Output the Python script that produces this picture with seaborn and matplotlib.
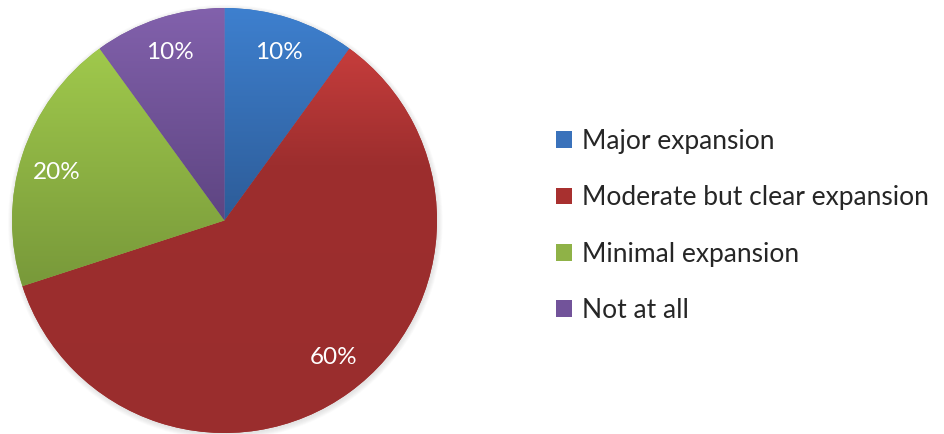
import numpy as np
import matplotlib
matplotlib.use("Agg")
import matplotlib.pyplot as plt
from matplotlib.colors import to_rgb
from matplotlib.patches import Patch, Circle
import seaborn as sns

categories = ["Major expansion", "Moderate but clear expansion", "Minimal expansion", "Not at all"]
values = [10, 60, 20, 10]
pct_labels = ["10%", "60%", "20%", "10%"]
base_colors = ["#3A72BB", "#A8302F", "#8FB247", "#72539A"]
grad_stops = [
    [(0.0, "#3E80CF"), (1.0, "#2D5C98")],
    [(0.0, "#C63D3C"), (0.3, "#9D2E2E"), (1.0, "#9A2D2D")],
    [(0.0, "#A0C94C"), (1.0, "#78993A")],
    [(0.0, "#8261AC"), (1.0, "#5E4582")],
]

sns.set_theme(style="white")
plt.rcParams["font.family"] = ["Lato", "DejaVu Sans"]

W, H = 945, 434
fig = plt.figure(figsize=(W / 100, H / 100), dpi=100)
cx, cy, R = 224.5, 220.5, 212.5
ax = fig.add_axes([(cx - R) / W, (H - cy - R) / H, 2 * R / W, 2 * R / H])
ax.set_xlim(-1, 1)
ax.set_ylim(-1, 1)
ax.axis("off")

# soft shadow
for i in range(6):
    ax.add_patch(Circle((0.004, -0.008), 1.0 + 0.0045 * i, facecolor="#808080",
                        edgecolor="none", alpha=0.035, zorder=0, clip_on=False))

wedges, texts, autotexts = ax.pie(
    values, colors=base_colors, startangle=90, counterclock=False,
    radius=1, labels=None, autopct=lambda p: "", pctdistance=0.83,
    wedgeprops=dict(linewidth=0, zorder=1), normalize=True,
)
ax.set_xlim(-1, 1)
ax.set_ylim(-1, 1)

for w, stops in zip(wedges, grad_stops):
    bb = w.get_path().get_extents()
    n = 256
    t = np.linspace(0, 1, n)
    pos = [s[0] for s in stops]
    cols = np.array([to_rgb(s[1]) for s in stops])
    arr = np.stack([np.interp(t, pos, cols[:, k]) for k in range(3)], axis=-1)[:, None, :]
    im = ax.imshow(arr, extent=(bb.x0, bb.x1, bb.y0, bb.y1), origin="upper",
                   aspect="auto", interpolation="bilinear", zorder=2)
    im.set_clip_path(w)

ax.set_xlim(-1, 1)
ax.set_ylim(-1, 1)

for at, lab in zip(autotexts, pct_labels):
    at.set_text(lab)
    at.set_color("white")
    at.set_fontsize(17.5)
    at.set_zorder(10)
# nudge labels slightly as in the original layout
x, y = autotexts[2].get_position()
autotexts[2].set_position((x, y - 0.03))
x, y = autotexts[1].get_position()
autotexts[1].set_position((x + 0.025, y + 0.025))

handles = [Patch(facecolor=c, edgecolor="none") for c in base_colors]
fig.legend(handles, categories, loc="center left",
           bbox_to_anchor=(556 / W, 1 - 226 / H), bbox_transform=fig.transFigure,
           frameon=False, fontsize=19, handlelength=0.6, handleheight=0.6,
           handletextpad=0.38, labelspacing=1.19, borderpad=0, borderaxespad=0)

fig.savefig("out.png", dpi=100)
